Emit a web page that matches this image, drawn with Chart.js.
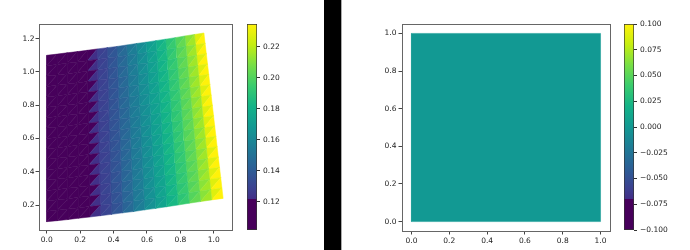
<!DOCTYPE html>
<html>
<head>
<meta charset="utf-8">
<script src="https://cdn.jsdelivr.net/npm/chart.js@4.4.1/dist/chart.umd.min.js"></script>
<style>
  html, body { margin: 0; padding: 0; background: #fff; }
  body { width: 690px; height: 250px; position: relative; overflow: hidden; }
  .box { position: absolute; top: 0; height: 250px; }
  #divider { position: absolute; left: 324px; top: 0; width: 17px; height: 250px; background: #000; border-right: 1px solid #aaa; }
</style>
</head>
<body>
<div class="box" style="left:0;width:240px"><canvas id="meshChart" width="240" height="250"></canvas></div>
<div class="box" style="left:240px;width:60px"><canvas id="meshBar" width="60" height="250"></canvas></div>
<div id="divider"></div>
<div class="box" style="left:345px;width:275px"><canvas id="flatChart" width="275" height="250"></canvas></div>
<div class="box" style="left:620px;width:70px"><canvas id="flatBar" width="70" height="250"></canvas></div>
<script>
// left panel: deformed mesh, 16 x 16 cells, column lines run straight from bottom edge to top edge
const rowCount = 16;
const bottomX = [0, 0.063, 0.128, 0.192, 0.257, 0.322, 0.388, 0.454, 0.520, 0.586, 0.653, 0.719, 0.786, 0.853, 0.921, 0.988, 1.056];
const bottomY = [0.100, 0.106, 0.113, 0.121, 0.128, 0.136, 0.144, 0.153, 0.161, 0.171, 0.180, 0.190, 0.200, 0.211, 0.221, 0.231, 0.240];
const topX = [0, 0.062, 0.122, 0.183, 0.243, 0.302, 0.362, 0.420, 0.479, 0.538, 0.596, 0.654, 0.712, 0.769, 0.827, 0.884, 0.941];
const topY = [1.100, 1.107, 1.115, 1.122, 1.130, 1.138, 1.146, 1.153, 1.162, 1.171, 1.179, 1.188, 1.197, 1.206, 1.216, 1.225, 1.234];
// displacement magnitude on the nodes of each column line
const nodeValue = [0.100, 0.101, 0.104, 0.108, 0.115, 0.126, 0.133, 0.141, 0.150, 0.159, 0.168, 0.177, 0.187, 0.197, 0.207, 0.219, 0.240];
const meshRange = [0.1017, 0.2346];
const meshBarTicks = [0.12, 0.14, 0.16, 0.18, 0.20, 0.22];
const meshXLimits = [-0.046, 1.109];
const meshYLimits = [0.05, 1.288];
const meshXTicks = [0, 0.2, 0.4, 0.6, 0.8, 1.0];
const meshYTicks = [0.2, 0.4, 0.6, 0.8, 1.0, 1.2];

// right panel: undeformed unit square, zero everywhere
const squareX = [0, 1, 1, 0];
const squareY = [0, 0, 1, 1];
const squareValue = 0;
const flatRange = [-0.1, 0.1];
const flatBarTicks = [-0.1, -0.075, -0.05, -0.025, 0, 0.025, 0.05, 0.075, 0.1];
const flatLimits = [-0.05, 1.05];
const flatTicks = [0, 0.2, 0.4, 0.6, 0.8, 1.0];

const viridis = ['#440154', '#482475', '#414487', '#355f8d', '#2a788e', '#21918c', '#22a884', '#44bf70', '#7ad151', '#bddf26', '#fde725'];
const lowBand = 0.15; // bottom of the colour scale shows as one flat band
const vivid = 1.2;    // the picture's colours are a little stronger than plain viridis

const font = { family: 'DejaVu Sans', size: 7.5 };
const textColor = '#222';
const frameColor = '#666';

function hexRgb(h) {
  return [1, 3, 5].map(k => parseInt(h.slice(k, k + 2), 16));
}

function boost(c) {
  const m = (c[0] + c[1] + c[2]) / 3;
  return c.map(v => Math.max(0, Math.min(255, Math.round(m + (v - m) * vivid))));
}

function rgb(c) {
  return 'rgb(' + boost(c).join(',') + ')';
}

function cmap(t) {
  t = Math.min(1, Math.max(0, t));
  if (t < lowBand) return rgb(hexRgb(viridis[0]));
  const p = t * 10;
  const k = Math.min(9, Math.floor(p));
  const f = p - k;
  const a = hexRgb(viridis[k]), b = hexRgb(viridis[k + 1]);
  return rgb(a.map((v, n) => v + (b[n] - v) * f));
}

function barGradient(chart) {
  const area = chart.chartArea;
  if (!area) return cmap(0);
  const g = chart.ctx.createLinearGradient(0, area.bottom, 0, area.top);
  g.addColorStop(0, cmap(0));
  g.addColorStop(lowBand, cmap(0));
  g.addColorStop(lowBand, cmap(lowBand));
  for (let k = 2; k < viridis.length; k++) g.addColorStop(k / 10, cmap(k / 10));
  return g;
}

function polygon(points, color) {
  return {
    data: points.concat([points[0]]),
    showLine: true,
    fill: 'shape',
    backgroundColor: color,
    borderColor: color,
    borderWidth: 0.5,
    pointRadius: 0,
    pointHitRadius: 0,
    tension: 0
  };
}

function meshDatasets() {
  const sets = [];
  const node = (i, j) => ({
    x: bottomX[i] + (topX[i] - bottomX[i]) * j / rowCount,
    y: bottomY[i] + (topY[i] - bottomY[i]) * j / rowCount
  });
  const norm = v => (v - meshRange[0]) / (meshRange[1] - meshRange[0]);
  for (let i = 0; i < nodeValue.length - 1; i++) {
    for (let j = 0; j < rowCount; j++) {
      const a = node(i, j), b = node(i + 1, j), c = node(i + 1, j + 1), d = node(i, j + 1);
      // flat shading: each triangle gets the mean of its three nodes
      sets.push(polygon([a, b, c], cmap(norm((nodeValue[i] + 2 * nodeValue[i + 1]) / 3))));
      sets.push(polygon([a, c, d], cmap(norm((2 * nodeValue[i] + nodeValue[i + 1]) / 3))));
    }
  }
  return sets;
}

function fixedTicks(list) {
  return s => { s.ticks = list.map(v => ({ value: v })); };
}

function tickAxis(position, limits, ticks, fmt, size, pad) {
  const horizontal = position === 'bottom';
  return {
    type: 'linear',
    position: position,
    min: limits[0],
    max: limits[1],
    afterBuildTicks: fixedTicks(ticks),
    afterFit: s => { if (horizontal) s.height = size; else s.width = size; },
    ticks: { font: font, color: textColor, padding: pad, maxRotation: 0, autoSkip: false, callback: fmt },
    grid: { drawOnChartArea: false, drawTicks: true, tickLength: 3.5, color: '#444', lineWidth: 1 },
    border: { display: true, color: frameColor, width: 1 }
  };
}

function frameAxis(position, limits) {
  const horizontal = position === 'top';
  return {
    type: 'linear',
    position: position,
    min: limits[0],
    max: limits[1],
    afterFit: s => { if (horizontal) s.height = 0; else s.width = 0; },
    ticks: { display: false },
    grid: { display: false },
    border: { display: true, color: frameColor, width: 1 }
  };
}

const one = v => v.toFixed(1);

function colorBar(id, range, ticks, fmt, left, axisWidth) {
  return new Chart(document.getElementById(id), {
    type: 'bar',
    data: {
      labels: [''],
      datasets: [{
        data: [range],
        backgroundColor: ctx => barGradient(ctx.chart),
        borderColor: '#333',
        borderWidth: 1,
        borderSkipped: false,
        barPercentage: 1,
        categoryPercentage: 1
      }]
    },
    options: {
      responsive: false,
      devicePixelRatio: 1,
      animation: false,
      events: [],
      layout: { padding: { left: left, top: 24, bottom: 20, right: 0 }, autoPadding: false },
      plugins: { legend: { display: false }, tooltip: { enabled: false } },
      scales: {
        x: { display: false },
        y: {
          position: 'right',
          min: range[0],
          max: range[1],
          afterBuildTicks: fixedTicks(ticks),
          afterFit: s => { s.width = axisWidth; },
          ticks: { font: font, color: textColor, padding: 3, autoSkip: false, callback: fmt },
          grid: { drawOnChartArea: false, tickLength: 3, color: '#333' },
          border: { display: false }
        }
      }
    }
  });
}

// left panel
new Chart(document.getElementById('meshChart'), {
  type: 'scatter',
  data: { datasets: meshDatasets() },
  options: {
    responsive: false,
    devicePixelRatio: 1,
    animation: false,
    events: [],
    layout: { padding: { top: 24, right: 8, left: 0, bottom: 0 }, autoPadding: false },
    plugins: { legend: { display: false }, tooltip: { enabled: false } },
    scales: {
      x: tickAxis('bottom', meshXLimits, meshXTicks, one, 20, 2),
      y: tickAxis('left', meshYLimits, meshYTicks, one, 39, 1),
      x2: frameAxis('top', meshXLimits),
      y2: frameAxis('right', meshYLimits)
    }
  }
});
colorBar('meshBar', meshRange, meshBarTicks, v => v.toFixed(2), 7, 43);

// right panel
const squarePoints = squareX.map((x, k) => ({ x: x, y: squareY[k] }));
const squareColor = cmap((squareValue - flatRange[0]) / (flatRange[1] - flatRange[0]));
new Chart(document.getElementById('flatChart'), {
  type: 'scatter',
  data: { datasets: [polygon(squarePoints, squareColor)] },
  options: {
    responsive: false,
    devicePixelRatio: 1,
    animation: false,
    events: [],
    layout: { padding: { top: 24, right: 10, left: 0, bottom: 0 }, autoPadding: false },
    plugins: { legend: { display: false }, tooltip: { enabled: false } },
    scales: {
      x: tickAxis('bottom', flatLimits, flatTicks, one, 19, 2),
      y: tickAxis('left', flatLimits, flatTicks, one, 57, 2),
      x2: frameAxis('top', flatLimits),
      y2: frameAxis('right', flatLimits)
    }
  }
});
colorBar('flatBar', flatRange, flatBarTicks, v => (v < -1e-9 ? '\u2212' : '') + Math.abs(v).toFixed(3), 4, 56);
</script>
</body>
</html>
